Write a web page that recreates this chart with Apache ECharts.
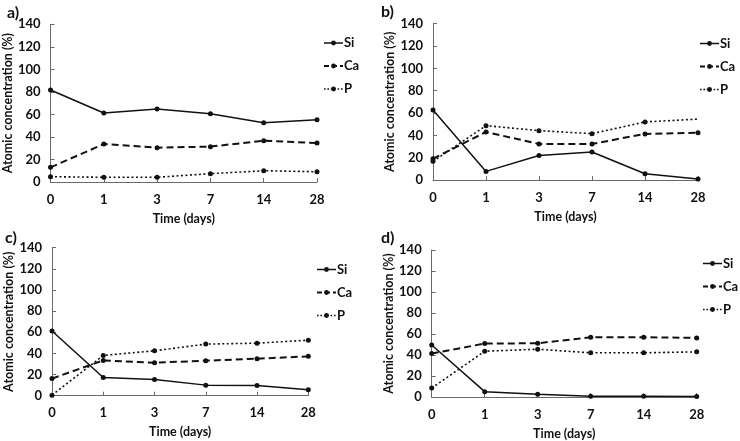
<!DOCTYPE html>
<html>
<head>
<meta charset="utf-8">
<script src="https://cdn.jsdelivr.net/npm/echarts@6/dist/echarts.min.js"></script>
<style>
html,body{margin:0;padding:0;background:#fff;}
#chart{width:740px;height:441px;}
</style>
</head>
<body>
<div id="chart"></div>
<script>
const days = ['0', '1', '3', '7', '14', '28'];
const yTicks = [0, 20, 40, 60, 80, 100, 120, 140];
const panelLabels = ['a)', 'b)', 'c)', 'd)'];
const elements = ['Si', 'Ca', 'P'];

const siA = [81.7, 61.3, 64.8, 60.6, 52.7, 55.3];
const caA = [13, 33.7, 30.5, 31.4, 36.7, 34.6];
const pA  = [4.7, 4.2, 4.2, 7.4, 10, 9.1];

const siB = [62.8, 7.7, 22, 25.1, 5.6, 0.8];
const caB = [19.1, 43, 32.3, 32.3, 41.3, 42.4];
const pB  = [16.7, 48.7, 44.2, 41.5, 52, 54.6];

const siC = [61.2, 17.2, 15.3, 10, 9.7, 5.6];
const caC = [16.2, 33.4, 31.2, 33.1, 35, 37.2];
const pC  = [0.5, 38.1, 42.5, 48.8, 49.7, 52.5];

const siD = [49.5, 5.1, 2.6, 0.7, 0.7, 0.5];
const caD = [41.4, 50.9, 51.2, 56.9, 56.9, 56.3];
const pD  = [8.5, 43.6, 45.5, 42.1, 42.1, 43];

const panels = [
  { si: siA, ca: caA, p: pA },
  { si: siB, ca: caB, p: pB, pLastNoSymbol: true },
  { si: siC, ca: caC, p: pC },
  { si: siD, ca: caD, p: pD }
];

const FONT = 'Lato, "Open Sans", sans-serif';
const AXIS_COLOR = '#6a6a6a';
const TXT = '#111';

const gridBoxes = [
  { left: 50, top: 24.3, width: 267, height: 157.7 },
  { left: 433, top: 23.7, width: 265, height: 156.3 },
  { left: 52, top: 247.7, width: 256.3, height: 148 },
  { left: 431.7, top: 250, width: 265, height: 147.7 }
];
const titlePos = [
  { left: 2, top: 0 },
  { left: 376, top: -1 },
  { left: 0, top: 225 },
  { left: 376, top: 225 }
];
const legendPos = [
  { left: 323, top: 36 },
  { left: 699, top: 36.5 },
  { left: 316, top: 262.5 },
  { left: 702, top: 256.5 }
];

const lineStyles = {
  Si: { type: 'solid', width: 1.5 },
  Ca: { type: [7, 4], width: 2 },
  P:  { type: [2, 2.5], width: 1.6 }
};
const legendLineStyles = {
  Si: { type: 'solid', width: 1.5 },
  Ca: { type: [5, 3], width: 2 },
  P:  { type: [1.6, 1.8], width: 1.6 }
};

const option = {
  backgroundColor: '#fff',
  animation: false,
  title: panelLabels.map((t, i) => ({
    text: t, left: titlePos[i].left, top: titlePos[i].top,
    textStyle: { fontFamily: FONT, fontWeight: 'bold', fontSize: 16, color: TXT }
  })),
  legend: legendPos.map((pos) => ({
    data: elements.map(el => ({ name: el, lineStyle: Object.assign({ color: '#111' }, legendLineStyles[el]) })),
    orient: 'vertical',
    left: pos.left, top: pos.top, padding: 0,
    itemWidth: 19, itemHeight: 6, itemGap: 9,
    selectedMode: false,
    textStyle: { fontFamily: FONT, fontWeight: 'bold', fontSize: 13, color: TXT, padding: [0, 0, 0, -4], lineHeight: 14 }
  })),
  grid: gridBoxes.map(g => Object.assign({ containLabel: false }, g)),
  xAxis: gridBoxes.map((g, i) => ({
    type: 'category', gridIndex: i, data: days, boundaryGap: false,
    name: 'Time (days)', nameLocation: 'middle', nameGap: 30,
    nameTextStyle: { fontFamily: FONT, fontWeight: 'bold', fontSize: 12.5, color: TXT },
    axisLine: { lineStyle: { color: AXIS_COLOR, width: 1 } },
    axisTick: { inside: true, length: 4, alignWithLabel: true, lineStyle: { color: AXIS_COLOR } },
    axisLabel: { fontFamily: FONT, fontWeight: 'bold', fontSize: 13, color: TXT, margin: 11 },
    splitLine: { show: false }
  })),
  yAxis: gridBoxes.map((g, i) => ({
    type: 'value', gridIndex: i, min: yTicks[0], max: yTicks[yTicks.length - 1], interval: yTicks[1] - yTicks[0],
    name: 'Atomic concentration (%)', nameLocation: 'middle', nameGap: 36,
    nameTextStyle: { fontFamily: FONT, fontWeight: 'bold', fontSize: 12.5, color: TXT },
    axisLine: { show: true, lineStyle: { color: AXIS_COLOR, width: 1 } },
    axisTick: { show: true, inside: true, length: 4, lineStyle: { color: AXIS_COLOR } },
    axisLabel: { fontFamily: FONT, fontWeight: 'bold', fontSize: 13, color: TXT, margin: 10 },
    splitLine: { show: false }
  })),
  series: []
};

panels.forEach((pn, i) => {
  const sets = { Si: pn.si, Ca: pn.ca, P: pn.p };
  elements.forEach(el => {
    let data = sets[el].slice();
    if (el === 'P' && pn.pLastNoSymbol) {
      data = data.map((v, k) => k === data.length - 1 ? { value: v, symbol: 'none' } : v);
    }
    option.series.push({
      name: el, type: 'line', xAxisIndex: i, yAxisIndex: i, data: data,
      symbol: 'circle', symbolSize: 5,
      itemStyle: { color: '#111' },
      lineStyle: Object.assign({ color: '#111' }, lineStyles[el]),
      emphasis: { disabled: true }
    });
  });
});

const chart = echarts.init(document.getElementById('chart'), null, { renderer: 'canvas' });
chart.setOption(option);
</script>
</body>
</html>
